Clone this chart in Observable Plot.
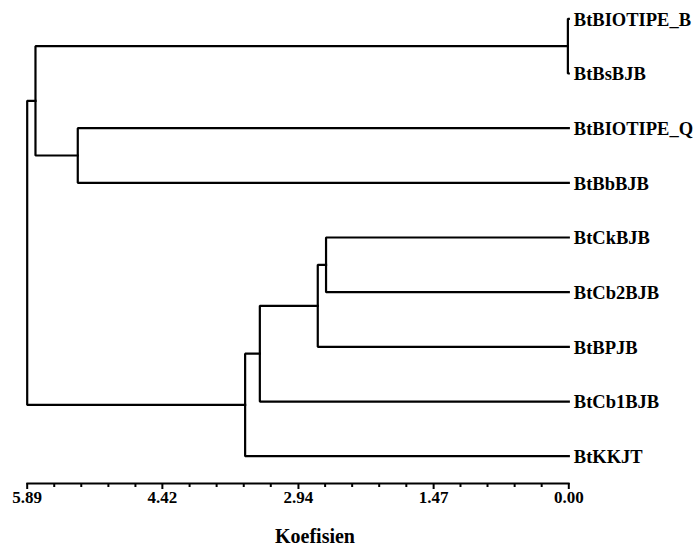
<!DOCTYPE html>
<html>
<head>
<meta charset="utf-8">
<script src="https://cdn.jsdelivr.net/npm/d3@7"></script>
<script src="https://cdn.jsdelivr.net/npm/@observablehq/plot@0.6"></script>
<style>
  html, body { margin: 0; padding: 0; background: #fff; }
  svg { font-family: "Liberation Serif", "Times New Roman", serif; }
</style>
</head>
<body>
<div id="chart"></div>
<script>
// Leaves (in display order, top to bottom)
const leaves = ["BtBIOTIPE_B", "BtBsBJB", "BtBIOTIPE_Q", "BtBbBJB", "BtCkBJB", "BtCb2BJB", "BtBPJB", "BtCb1BJB", "BtKKJT"];
// Merges: cluster ids 0..8 are leaves, 9.. are merges in this order
const mergeLeft   = [0, 2, 4, 11, 12, 13, 9, 15];
const mergeRight  = [1, 3, 5, 6, 7, 8, 10, 14];
const mergeHeight = [0.01, 5.34, 2.64, 2.73, 3.36, 3.52, 5.80, 5.89];
// Axis ticks
const majorTicks = [5.89, 4.42, 2.94, 1.47, 0.00];
const majorTickLabels = ["5.89", "4.42", "2.94", "1.47", "0.00"];
const minorTicks = [5.596, 5.302, 5.007, 4.713, 4.124, 3.830, 3.535, 3.241, 2.650, 2.356, 2.062, 1.767, 1.178, 0.884, 0.589, 0.295];
const axisTitle = "Koefisien";

// Build node positions
const nodeX = leaves.map(() => 0);
const nodeY = leaves.map((_, i) => i);
const paths = [];
mergeLeft.forEach((l, k) => {
  const r = mergeRight[k], h = mergeHeight[k];
  const id = leaves.length + k;
  nodeX[id] = h;
  nodeY[id] = (nodeY[l] + nodeY[r]) / 2;
  paths.push({id, x: nodeX[l], y: nodeY[l]});
  paths.push({id, x: h, y: nodeY[l]});
  paths.push({id, x: h, y: nodeY[r]});
  paths.push({id, x: nodeX[r], y: nodeY[r]});
});
const leafData = leaves.map((name, i) => ({name, x: 0, y: i}));
const tickData = majorTicks.map((v, i) => ({v, label: majorTickLabels[i]}));

const fontFamily = "'Liberation Serif', 'Times New Roman', serif";

const chart = Plot.plot({
  width: 698,
  height: 548,
  marginLeft: 27,
  marginRight: 130,
  marginTop: 10,
  marginBottom: 65,
  style: {background: "#fff", color: "#000", fontFamily},
  x: {domain: [5.89, 0], range: [26.7, 568.3]},
  y: {domain: [0, leaves.length - 1], range: [18.3, 455.7], axis: null},
  marks: [
    Plot.line(paths, {x: "x", y: "y", z: "id", stroke: "#000", strokeWidth: 2.2, strokeLinejoin: "miter", strokeLinecap: "square"}),
    Plot.text(leafData, {x: "x", y: "y", text: "name", textAnchor: "start", dx: 5, dy: 1, fontSize: 18.5, fontWeight: "bold", fill: "#000"}),
    Plot.frame({anchor: "bottom", stroke: "#000", strokeWidth: 2.2}),
    Plot.axisX({ticks: minorTicks, tickSize: 4, tickFormat: () => "", strokeWidth: 2, label: null}),
    Plot.axisX({ticks: majorTicks, tickSize: 6, tickFormat: () => "", strokeWidth: 2, label: null}),
    Plot.text(tickData, {x: "v", text: "label", frameAnchor: "bottom", dy: 19, fontSize: 17, fontWeight: "bold", fill: "#000"}),
    Plot.text([axisTitle], {frameAnchor: "bottom", dx: 17, dy: 59, fontSize: 20, fontWeight: "bold", fill: "#000"})
  ]
});
document.getElementById("chart").appendChild(chart);
</script>
</body>
</html>
